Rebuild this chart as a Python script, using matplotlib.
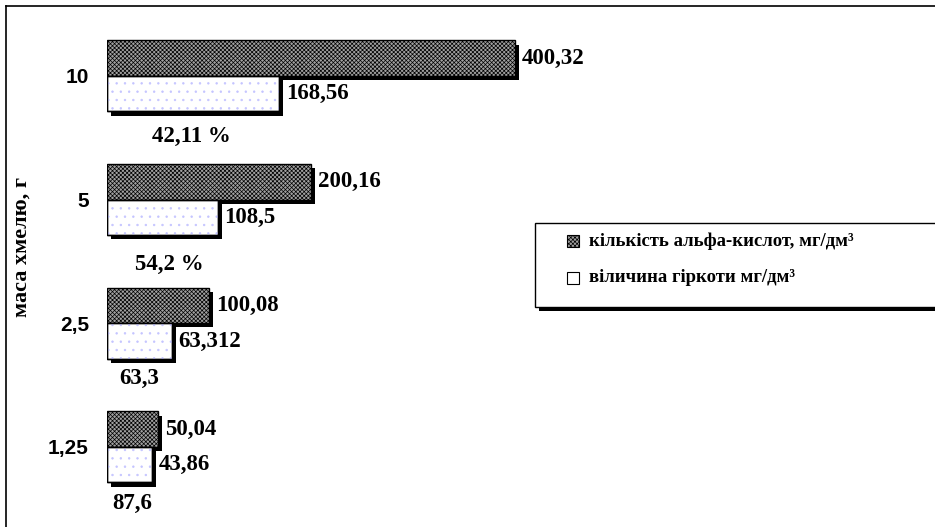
import matplotlib
matplotlib.use('Agg')
import matplotlib.pyplot as plt
import matplotlib.patheffects as pe
from matplotlib.patches import Rectangle
from matplotlib.lines import Line2D
import numpy as np

# data
categories = ['1,25', '2,5', '5', '10']
alpha_acids = [50.04, 100.08, 200.16, 400.32]
bitterness = [43.86, 63.312, 108.5, 168.56]
alpha_labels = ['50,04', '100,08', '200,16', '400,32']
bitter_labels = ['43,86', '63,312', '108,5', '168,56']
ratio_labels = ['87,6', '63,3', '54,2 %', '42,11 %']
legend_labels = ['кількість альфа-кислот, мг/дм³', 'віличина гіркоти мг/дм³']

# layout for the ratio captions (x in data units, offset below group centre)
ratio_x = [24.5, 31.4, 60.8, 82.4]
ratio_dy = [0.453, 0.445, 0.527, 0.493]

W, H = 935, 527
serif = 'Liberation Serif'
sans = 'Liberation Sans'
dark_face = '#a0a0a0'
dark_hatch = 'xxxxxxxx'
dot_color = '#c4c4ff'
plt.rcParams['hatch.linewidth'] = 0.5

fig = plt.figure(figsize=(W / 100, H / 100), dpi=100)
ax = fig.add_axes([107 / W, 0, 1 - 107 / W, 1])
ax.set_xlim(0, (W - 107) / 1.019)
ax.set_ylim(-0.647, 3.614)

y = np.arange(len(categories))
h = 0.287


def shadow():
    return [pe.SimplePatchShadow(offset=(3, -3), shadow_rgbFace='k', alpha=1), pe.Normal()]


dark = ax.barh(y + h / 2, alpha_acids, height=h, color=dark_face, edgecolor='k',
               hatch=dark_hatch, linewidth=1, zorder=2)
light = ax.barh(y - h / 2, bitterness, height=h, color='white', edgecolor='k',
                linewidth=1, zorder=3)
# dotted fill on top of the white bars
ax.barh(y - h / 2, bitterness, height=h, fill=False, edgecolor=dot_color,
        hatch='..', linewidth=0, zorder=4)
ax.barh(y - h / 2, bitterness, height=h, fill=False, edgecolor='k', linewidth=1, zorder=5)
for b in list(dark) + list(light):
    b.set_path_effects(shadow())

txt = dict(fontfamily=serif, fontweight='bold', fontsize=16.5)
for i in range(len(categories)):
    ax.annotate(alpha_labels[i], (alpha_acids[i], y[i] + h / 2), xytext=(5, 0),
                textcoords='offset points', va='center', ha='left', **txt)
    ax.annotate(bitter_labels[i], (bitterness[i], y[i] - h / 2), xytext=(5, 0),
                textcoords='offset points', va='center', ha='left', **txt)
    ax.text(ratio_x[i], y[i] - ratio_dy[i], ratio_labels[i], va='center', ha='center', **txt)

ax.set_yticks(y)
ax.set_yticklabels(categories, fontfamily=sans, fontweight='bold', fontsize=15)
ax.tick_params(axis='y', length=0, pad=13)
ax.set_xticks([])
for s in ax.spines.values():
    s.set_visible(False)
ax.patch.set_visible(False)

fig.text(22 / W, 1 - 247 / H, 'маса хмелю, г', rotation=90, ha='center', va='center',
         fontfamily=serif, fontweight='bold', fontsize=16)

# legend box, drawn by hand so it runs off the right edge like the original
box = Rectangle((535 / W, 1 - 307 / H), 1, 84 / H, transform=fig.transFigure,
                facecolor='white', edgecolor='k', linewidth=1, zorder=6)
box.set_path_effects(shadow())
fig.add_artist(box)
legend_rows = [241, 278]
legend_faces = [(dark_face, dark_hatch), ('white', None)]
for row, label, (fc, ht) in zip(legend_rows, legend_labels, legend_faces):
    fig.add_artist(Rectangle((567 / W, 1 - (row + 6) / H), 12 / W, 12 / H,
                             transform=fig.transFigure, facecolor=fc, hatch=ht,
                             edgecolor='k', linewidth=0.8, zorder=7))
    fig.text(589 / W, 1 - row / H, label, ha='left', va='center', zorder=7,
             fontfamily=serif, fontweight='bold', fontsize=13.5)

# outer frame
fig.add_artist(Line2D([6 / W, 6 / W], [0, 1 - 6 / H], color='k', lw=1.2))
fig.add_artist(Line2D([6 / W, 1], [1 - 6 / H, 1 - 6 / H], color='k', lw=1.2))

fig.savefig('out.png', dpi=100)
